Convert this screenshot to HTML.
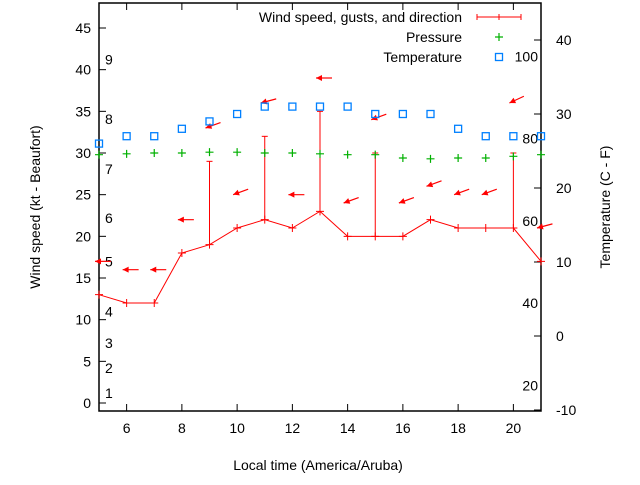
<!DOCTYPE html>
<html><head><meta charset="utf-8"><style>
body{margin:0;background:#fff}
svg{font-family:"Liberation Sans",sans-serif;font-size:14px}
</style></head><body>
<svg id="c" width="640" height="480" viewBox="0 0 640 480" xmlns="http://www.w3.org/2000/svg">
<g id="g"></g>
</svg>
<script>
const hours=[5,6,7,8,9,10,11,12,13,14,15,16,17,18,19,20,21];
const windSpeed=[13,12,12,18,19,21,22,21,23,20,20,20,22,21,21,21,17];
const gustHours=[9,11,13,15,20];
const gustValues=[29,32,35,30,30];
const arrowY=[17,16,16,22,33,25,36,25,39,24,34,24,26,25,25,36,21];
const windDir=[90,90,90,90,70,70,75,90,90,70,70,70,70,70,70,65,75];
const pressure=[29.8,29.9,30,30,30.1,30.1,30,30,29.9,29.8,29.8,29.4,29.3,29.4,29.4,29.6,29.8];
const tempC=[26,27,27,28,29,30,31,31,31,31,30,30,30,28,27,27,27];
const xTicks=[6,8,10,12,14,16,18,20];
const yTicks=[0,5,10,15,20,25,30,35,40,45];
const y2Ticks=[-10,0,10,20,30,40];
const beaufortLabels=["1","2","3","4","5","6","7","8","9"];
const beaufortKt=[1.2,4.2,7.2,11,17,22.2,28.1,34.1,41.2];
const fLabels=[20,40,60,80,100];

const L=99,R=541,T=3,B=411;
const X=h=>L+(h-5)/(21-5)*(R-L);
const Y=v=>403-v*(375/45);
const Y2=c=>336-c*7.4;
const g=document.getElementById('g');
const NS='http://www.w3.org/2000/svg';
function el(tag,attrs,parent){const e=document.createElementNS(NS,tag);for(const k in attrs)e.setAttribute(k,attrs[k]);(parent||g).appendChild(e);return e;}
function txt(s,x,y,anchor,name,extra){const t=el('text',Object.assign({x:x,y:y,'text-anchor':anchor||'middle'},extra||{}));t.textContent=s;return t;}

let f=el('rect',{x:L,y:T,width:R-L,height:B-T,fill:'none',stroke:'#000','stroke-width':1.5});

xTicks.forEach(h=>{
  el('line',{x1:X(h),x2:X(h),y1:B,y2:B-7,stroke:'#000'});
  el('line',{x1:X(h),x2:X(h),y1:T,y2:T+7,stroke:'#000'});
  txt(String(h),X(h),B+22,'middle','x-tick-label');
});
yTicks.forEach(v=>{
  el('line',{x1:L,x2:L+7,y1:Y(v),y2:Y(v),stroke:'#000'});
  txt(String(v),91,Y(v)+5,'end','y-tick-label');
});
y2Ticks.forEach(c=>{
  el('line',{x1:R,x2:R-7,y1:Y2(c),y2:Y2(c),stroke:'#000'});
  txt(String(c),556,Y2(c)+5,'start','y2-tick-label');
});
beaufortLabels.forEach((s,i)=>txt(s,105,Y(beaufortKt[i])+5,'start','beaufort-label'));
fLabels.forEach(F=>txt(String(F),538,Y2((F-32)*5/9)+5,'end','fahrenheit-label'));

txt('Wind speed (kt - Beaufort)',40,207,'middle','y-axis-title',{transform:'rotate(-90 40 207)'});
txt('Temperature (C - F)',610,207,'middle','y2-axis-title',{transform:'rotate(-90 610 207)'});
txt('Local time (America/Aruba)',318,470,'middle','x-axis-title');

gustHours.forEach((h,i)=>{
  const hi=hours.indexOf(h);
  const l=el('line',{x1:X(h),x2:X(h),y1:Y(windSpeed[hi]),y2:Y(gustValues[i]),stroke:'#f00'});
  
  el('line',{x1:X(h)-3,x2:X(h)+3,y1:Y(gustValues[i]),y2:Y(gustValues[i]),stroke:'#f00'});
});
const wl=el('polyline',{points:hours.map((h,i)=>X(h)+','+Y(windSpeed[i])).join(' '),fill:'none',stroke:'#f00'});

hours.forEach((h,i)=>{
  el('path',{d:`M${X(h)-4},${Y(windSpeed[i])}h8M${X(h)},${Y(windSpeed[i])-4}v8`,stroke:'#f00'});
});
hours.forEach((h,i)=>{
  const a=(windDir[i]-90)*Math.PI/180;
  const x0=X(h)-4,y0=Y(arrowY[i]);
  const x1=x0+16*Math.cos(a),y1=y0+16*Math.sin(a);
  const grp=el('g',{});
  
  
  el('line',{x1:x0,y1:y0,x2:x1,y2:y1,stroke:'#f00','stroke-width':1.2},grp);
  const ax=Math.cos(a),ay=Math.sin(a);
  el('polygon',{points:`${x0},${y0} ${x0+6*ax-3*ay},${y0+6*ay+3*ax} ${x0+6*ax+3*ay},${y0+6*ay-3*ax}`,fill:'#f00'},grp);
});
hours.forEach((h,i)=>{
  const p=el('path',{d:`M${X(h)-4},${Y(pressure[i])}h8M${X(h)},${Y(pressure[i])-4}v8`,stroke:'#00b000','stroke-width':1.2});
  
});
hours.forEach((h,i)=>{
  const r=el('rect',{x:X(h)-3.5,y:Y2(tempC[i])-3.5,width:7,height:7,fill:'none',stroke:'#0080ff','stroke-width':1.3});
  
});
txt('Wind speed, gusts, and direction',462,22,'end','legend-wind-label');
el('path',{d:'M477,17H521M477,14v6M521,14v6M499,14v6',stroke:'#f00'});
txt('Pressure',462,42,'end','legend-pressure-label');
el('path',{d:'M495,37h8M499,33v8',stroke:'#00b000','stroke-width':1.2});
txt('Temperature',462,62,'end','legend-temperature-label');
el('rect',{x:495.5,y:53.5,width:7,height:7,fill:'none',stroke:'#0080ff','stroke-width':1.3});
</script>
</body></html>
